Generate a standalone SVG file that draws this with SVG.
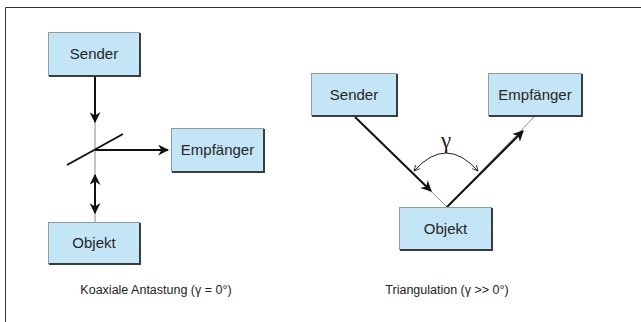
<svg xmlns="http://www.w3.org/2000/svg" width="641" height="322" viewBox="0 0 641 322">
<style>
.box{fill:#c3e5f5;stroke:#8c9ca8;stroke-width:1}
.sh{fill:none;stroke:#3c3c3c;stroke-width:2}
.lbl{font-family:"Liberation Sans",Arial,sans-serif;font-size:15px;fill:#262626;text-anchor:middle}
.cap{font-family:"Liberation Sans",Arial,sans-serif;font-size:12.5px;fill:#222;text-anchor:middle}
.thin{stroke:#8a8a8a;stroke-width:1;fill:none}
.thick{stroke:#111;stroke-width:2;fill:none}
</style>
<defs>
<marker id="ah" viewBox="0 0 10 10" refX="9" refY="5" markerWidth="5.5" markerHeight="5.5" orient="auto-start-reverse" markerUnits="strokeWidth">
<path d="M0,0 L10,5 L0,10 L3,5 Z" fill="#111"/>
</marker>
<marker id="ahs" viewBox="0 0 10 10" refX="9" refY="5" markerWidth="7" markerHeight="7" orient="auto-start-reverse" markerUnits="strokeWidth">
<path d="M1,1 L9,5 L1,9" fill="none" stroke="#222" stroke-width="1.2"/>
</marker>
</defs>
<rect width="641" height="322" fill="#fff"/>
<path d="M5.5,322 V7.5 H641" fill="none" stroke="#333" stroke-width="1"/>

<g id="connectors">
<line class="thin" x1="95" y1="76" x2="95" y2="222"/>
<line class="thick" x1="95" y1="77" x2="95" y2="122" marker-end="url(#ah)"/>
<line class="thick" x1="95" y1="175" x2="95" y2="213" marker-start="url(#ah)" marker-end="url(#ah)"/>
<line class="thick" x1="95" y1="150" x2="168" y2="150" stroke-width="1.7" marker-end="url(#ah)"/>
<line class="thick" x1="67" y1="165" x2="123" y2="134"/>

<polyline class="thin" points="355,117 447,207 534,117"/>
<line class="thick" x1="355" y1="117" x2="431" y2="191" marker-end="url(#ah)"/>
<line class="thick" x1="447" y1="207" x2="523" y2="131" marker-end="url(#ah)"/>
<path d="M414,171 Q446,135 478,171" fill="none" stroke="#222" stroke-width="1" marker-start="url(#ahs)" marker-end="url(#ahs)"/>
<text x="446" y="148" font-family="'Liberation Serif','Times New Roman',serif" font-size="23" fill="#222" text-anchor="middle">γ</text>
</g>

<g id="sender-left">
<rect class="box" x="48.5" y="32.5" width="91" height="43"/>
<path class="sh" d="M49,76 H140 V33"/>
<text class="lbl" x="94" y="59">Sender</text>
</g>
<g id="empfaenger-left">
<rect class="box" x="171.5" y="128.5" width="92" height="43"/>
<path class="sh" d="M172,172 H264 V129"/>
<text class="lbl" x="217.5" y="155">Empfänger</text>
</g>
<g id="objekt-left">
<rect class="box" x="48.5" y="222.5" width="91" height="41"/>
<path class="sh" d="M49,264 H140 V223"/>
<text class="lbl" x="94" y="248">Objekt</text>
</g>

<g id="sender-right">
<rect class="box" x="311.5" y="73.5" width="85" height="42"/>
<path class="sh" d="M312,116 H397 V74"/>
<text class="lbl" x="354" y="100">Sender</text>
</g>
<g id="empfaenger-right">
<rect class="box" x="488.5" y="73.5" width="93" height="42"/>
<path class="sh" d="M489,116 H582 V74"/>
<text class="lbl" x="535" y="100">Empfänger</text>
</g>
<g id="objekt-right">
<rect class="box" x="399.5" y="207.5" width="92" height="42"/>
<path class="sh" d="M400,250 H492 V208"/>
<text class="lbl" x="445.5" y="234">Objekt</text>
</g>

<text class="cap" x="156" y="294">Koaxiale Antastung (γ = 0°)</text>
<text class="cap" x="447" y="294">Triangulation (γ &gt;&gt; 0°)</text>
</svg>
